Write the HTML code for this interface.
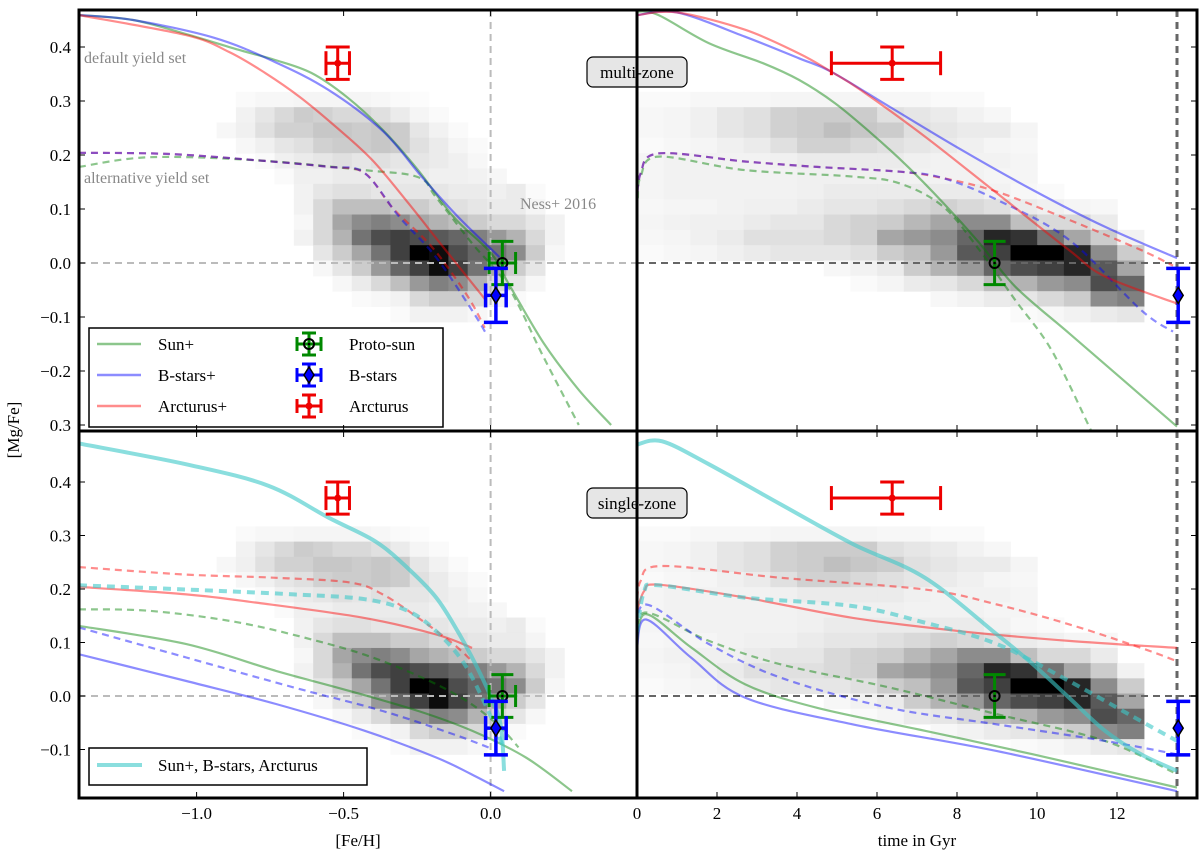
<!DOCTYPE html>
<html><head><meta charset="utf-8"><style>
html,body{margin:0;padding:0;background:#fff;}
svg{display:block;font-family:"Liberation Serif",serif;}
</style></head><body>
<svg id="chart" width="1200" height="850" viewBox="0 0 1200 850" xmlns="http://www.w3.org/2000/svg">
<defs>
<clipPath id="cTL"><rect x="79" y="10" width="558" height="421"/></clipPath>
<clipPath id="cTR"><rect x="637" y="10" width="560" height="421"/></clipPath>
<clipPath id="cBL"><rect x="79" y="431" width="558" height="367"/></clipPath>
<clipPath id="cBR"><rect x="637" y="431" width="560" height="367"/></clipPath>
</defs>
<g id="layer"></g>
</svg>
<script>
// ---- axis scales ----
const LX = f => 79 + (f + 1.4) * 294;
const RX = a => 637 + a * 40;
const TY = m => 263 - m * 540;
const BY = m => 696 - m * 535;

// ---- heatmap data (Ness+ 2016) ----
const hmMgTop = 0.317, hmMgStep = 0.0284;
const hmFehStart = -0.932, hmFehStep = 0.0657;
const hmAgeStart = 0, hmAgeStep = 0.667;
const hmFeh = [
[0,.02,.03,.03,.04,.04,.04,.04,.03,.02,.01,0,0,0,0,0,0,0],
[0,.05,.1,.15,.2,.18,.15,.15,.12,.08,.04,.02,0,0,0,0,0,0],
[.03,.06,.12,.18,.18,.22,.22,.2,.22,.2,.1,.05,.02,0,0,0,0,0],
[0,.03,.06,.1,.12,.18,.2,.2,.22,.2,.12,.08,.04,.02,0,0,0,0],
[0,0,.02,.06,.08,.1,.12,.1,.12,.1,.1,.08,.06,.03,0,0,0,0],
[0,0,0,.02,.06,.06,.08,.08,.08,.08,.08,.06,.06,.05,.03,0,0,0],
[0,0,0,0,.05,.1,.12,.12,.1,.1,.1,.1,.08,.08,.06,.08,.02,0],
[0,0,0,0,.05,.15,.25,.25,.25,.2,.2,.15,.12,.1,.08,.08,.04,0],
[0,0,0,0,.03,.15,.35,.45,.5,.45,.35,.3,.25,.2,.15,.15,.1,.05],
[0,0,0,0,.05,.15,.3,.55,.7,.75,.7,.65,.6,.5,.4,.3,.15,.05],
[0,0,0,0,0,.1,.2,.35,.55,.75,1,.95,.7,.6,.55,.45,.2,.03],
[0,0,0,0,0,.03,.1,.2,.4,.6,.75,.95,.75,.55,.35,.2,.1,0],
[0,0,0,0,0,0,.03,.08,.15,.25,.4,.5,.45,.3,.15,.1,.03,0],
[0,0,0,0,0,0,0,.02,.03,.05,.15,.2,.2,.15,.05,.02,0,0],
[0,0,0,0,0,0,0,0,0,.02,.05,.05,.05,.03,0,0,0,0]];
const hmAge = [
[.02,.02,.03,.03,.03,.04,.04,.04,.04,.03,.03,.02,.02,0,0,0,0,0,0],
[.03,.04,.06,.1,.12,.18,.2,.2,.2,.12,.1,.08,.05,.03,0,0,0,0,0],
[.03,.04,.06,.1,.12,.18,.2,.25,.22,.2,.12,.1,.08,.08,.04,0,0,0,0],
[.02,.03,.04,.06,.08,.12,.18,.18,.15,.12,.1,.08,.06,.04,.03,0,0,0,0],
[.04,.05,.05,.05,.05,.06,.08,.08,.08,.08,.06,.05,.05,.05,.04,0,0,0,0],
[.04,.05,.05,.05,.05,.05,.06,.06,.06,.06,.05,.05,.05,.04,.04,0,0,0,0],
[.04,.05,.05,.05,.05,.05,.06,.08,.08,.08,.08,.08,.08,.05,.03,.02,0,0,0],
[.03,.04,.04,.05,.06,.06,.08,.1,.1,.12,.15,.18,.15,.12,.08,.06,.04,.03,0],
[.04,.05,.06,.06,.08,.1,.1,.15,.18,.2,.28,.35,.45,.45,.25,.15,.15,.08,0],
[.03,.04,.06,.08,.12,.12,.12,.15,.18,.35,.4,.45,.6,.85,.8,.55,.35,.2,.05],
[.02,.03,.04,.06,.08,.1,.1,.1,.12,.2,.25,.4,.65,.75,1,1,.85,.45,.2],
[0,0,0,0,0,0,0,.03,.05,.08,.2,.3,.4,.6,.7,.75,.85,.65,.35],
[0,0,0,0,0,0,0,0,.02,.04,.08,.1,.15,.25,.3,.4,.45,.7,.6],
[0,0,0,0,0,0,0,0,0,0,0,.03,.05,.08,.1,.15,.2,.45,.5],
[0,0,0,0,0,0,0,0,0,0,0,0,0,0,.02,.03,.05,.08,.1]];

// ---- top-left (multi-zone vs [Fe/H]) ----
const tlRedFeh=[-1.4,-1.036,-0.89,-0.767,-0.648,-0.526,-0.403,-0.28,-0.162,-0.016];
const tlRedMg=[.459,.422,.391,.352,.307,.252,.191,.111,.030,-.069];
const tlGreenFeh=[-1.4,-1.216,-1.036,-0.852,-0.733,-0.61,-0.488,-0.366,-0.247,-0.125,0,0.06,0.18,0.30,0.41];
const tlGreenMg=[.459,.45,.424,.394,.376,.352,.307,.246,.172,.085,.019,-.037,-.148,-.235,-.30];
const tlBlueFeh=[-1.4,-1.216,-0.94,-0.733,-0.55,-0.366,-0.233,-0.11,0.03];
const tlBlueMg=[.459,.45,.417,.372,.32,.244,.159,.085,.011];
const tlRedDFeh=[-1.4,-1.1,-0.79,-0.55,-0.43,-0.33,-0.2,-0.08,-0.02];
const tlRedDMg=[.204,.202,.19,.178,.167,.10,.03,-.06,-.12];
const tlBlueDFeh=[-1.4,-1.1,-0.79,-0.55,-0.43,-0.31,-0.186,-0.064,-0.016];
const tlBlueDMg=[.204,.202,.19,.178,.167,.085,.011,-.087,-.13];
const tlGreenDFeh=[-1.4,-1.16,-0.79,-0.43,-0.247,-0.186,-0.064,0.06,0.18,0.30];
const tlGreenDMg=[.178,.196,.19,.172,.159,.122,.037,-.044,-.174,-.30];

// ---- top-right (multi-zone vs age) ----
const trRedAge=[0,1.0,2.7,4.05,4.86,5.6,7.2,9.0,10.8,11.7,13.5];
const trRedMg=[.459,.464,.432,.388,.354,.320,.234,.129,.024,-.025,-.075];
const trBlueAge=[0,1.0,2.7,4.05,4.86,6.3,8.1,9.9,11.7,13.5];
const trBlueMg=[.459,.464,.419,.379,.354,.29,.21,.135,.067,.009];
const trGreenAge=[0,0.54,1.8,3.15,4.05,4.95,5.86,6.76,7.66,8.56,9.46,10.8,12.16,13.5];
const trGreenMg=[.466,.459,.407,.370,.339,.296,.240,.179,.111,.037,-.044,-.130,-.217,-.303];
const trRedDAge=[0,0.09,0.54,2.7,4.5,6.58,7.66,9.0,10.8,12.6,13.4];
const trRedDMg=[.11,.166,.203,.188,.178,.169,.157,.132,.080,.024,-.005];
const trBlueDAge=[0,0.09,0.54,2.7,4.5,6.58,7.66,9.0,10.8,12.6,13.4];
const trBlueDMg=[.11,.166,.203,.188,.178,.169,.157,.117,.043,-.087,-.127];
const trGreenDAge=[0.02,0.09,0.54,2.7,5.4,6.58,7.66,8.56,9.46,10.36,11.35];
const trGreenDMg=[.12,.16,.197,.172,.16,.147,.104,.024,-.069,-.161,-.31];

// ---- bottom-left (single-zone vs [Fe/H]) ----
const blCyanFeh=[-1.4,-1.035,-0.756,-0.55,-0.392,-0.282,-0.185,-0.112,-0.051,-0.003,0.034,0.046];
const blCyanMg=[.472,.433,.393,.333,.289,.239,.184,.121,.059,.003,-.053,-.14];
const blRedFeh=[-1.4,-1.035,-0.79,-0.43,-0.185,-0.063];
const blRedMg=[.204,.190,.174,.146,.115,.090];
const blRedDFeh=[-1.4,-1.035,-0.73,-0.477,-0.367,-0.246,-0.124,-0.063];
const blRedDMg=[.241,.227,.221,.212,.190,.146,.096,.065];
const blCyanDFeh=[-1.4,-1.035,-0.67,-0.428,-0.282,-0.185,-0.088,-0.003,0.046];
const blCyanDMg=[.207,.199,.190,.181,.159,.121,.059,-.034,-.10];
const blGreenDFeh=[-1.4,-1.157,-0.853,-0.55,-0.367,-0.185,-0.063,0.034,0.095];
const blGreenDMg=[.162,.159,.137,.097,.065,.022,-.016,-.059,-.096];
const blGreenFeh=[-1.4,-1.035,-0.73,-0.477,-0.246,-0.063,0.12,0.277];
const blGreenMg=[.131,.097,.047,.009,-.028,-.065,-.115,-.178];
const blBlueDFeh=[-1.4,-1.035,-0.67,-0.367,-0.124,-0.003];
const blBlueDMg=[.128,.072,.016,-.028,-.072,-.097];
const blBlueFeh=[-1.4,-1.035,-0.73,-0.428,-0.185,-0.063,0.046];
const blBlueMg=[.078,.028,-.015,-.065,-.115,-.147,-.178];

// ---- bottom-right (single-zone vs age) ----
const brCyanAge=[0,0.63,1.8,3.6,5.4,7.2,9.0,9.9,10.8,11.7,12.6,13.5];
const brCyanMg=[.470,.476,.433,.358,.284,.221,.115,.059,-.003,-.065,-.109,-.140];
const brRedAge=[0,0.18,0.54,2.7,5.4,8.1,10.8,13.5];
const brRedMg=[.159,.196,.208,.184,.146,.121,.103,.090];
const brRedDAge=[0,0.09,0.63,3.6,7.2,9.0,10.8,12.6,13.5];
const brRedDMg=[.16,.215,.243,.221,.199,.171,.134,.090,.065];
const brCyanDAge=[0,0.18,0.54,2.7,5.4,7.2,9.0,10.8,12.6,13.5];
const brCyanDMg=[.12,.196,.207,.184,.168,.137,.097,.028,-.047,-.084];
const brGreenDAge=[0,0.23,1.8,3.6,6.3,9.0,11.7,13.5];
const brGreenDMg=[.109,.156,.103,.059,.016,-.034,-.084,-.146];
const brBlueDAge=[0,0.23,1.8,3.6,6.3,9.0,11.7,13.5];
const brBlueDMg=[.11,.171,.097,.034,-.022,-.053,-.084,-.109];
const brGreenAge=[0,0.23,1.35,2.7,4.5,7.2,9.9,13.5];
const brGreenMg=[.1,.153,.091,.022,-.022,-.065,-.109,-.171];
const brBlueAge=[0,0.23,1.35,2.7,5.4,9.0,13.5];
const brBlueMg=[.09,.143,.072,-.003,-.053,-.103,-.178];

// ---- observations ----
const arcFeh=-0.52, arcFehErr=0.04, arcMg=0.37, arcMgErr=0.03, arcAge=6.38, arcAgeLo=1.52, arcAgeHi=1.21;
const sunFeh=0.04, sunFehErr=0.045, sunMg=0.0, sunMgErr=0.04, sunAge=8.94;
const bstFeh=0.018, bstFehErr=0.035, bstMg=-0.06, bstMgErr=0.05, bstAge=13.53;

// tick label arrays
const fehTicks=[-1.0,-0.5,0.0];
const fehTickLabels=["\u22121.0","\u22120.5","0.0"];
const ageTicks=[0,2,4,6,8,10,12];
const mgTicksTop=[0.4,0.3,0.2,0.1,0.0,-0.1,-0.2,-0.3];
const mgTickLabelsTop=["0.4","0.3","0.2","0.1","0.0","\u22120.1","\u22120.2","0.3"];
const mgTicksBot=[0.4,0.3,0.2,0.1,0.0,-0.1];
const mgTickLabelsBot=["0.4","0.3","0.2","0.1","0.0","\u22120.1"];

const NS="http://www.w3.org/2000/svg";
const root=document.getElementById('layer');
function mk(tag,attrs,parent){const e=document.createElementNS(NS,tag);for(const k in attrs)e.setAttribute(k,attrs[k]);(parent||root).appendChild(e);return e;}
function grp(clip){const g=mk('g',{});if(clip)g.setAttribute('clip-path','url(#'+clip+')');return g;}

const GREEN='rgba(0,128,0,0.45)',BLUE='rgba(0,0,255,0.45)',RED='rgba(255,0,0,0.45)',CYAN='rgba(60,200,200,0.6)';

function heat(g,mat,xs,xStart,xStep,ys){
  for(let r=0;r<mat.length;r++)for(let c=0;c<mat[r].length;c++){
    const v=mat[r][c]; if(v<=0) continue;
    const x0=xs(xStart+c*xStep), x1=xs(xStart+(c+1)*xStep);
    const y0=ys(hmMgTop-r*hmMgStep), y1=ys(hmMgTop-(r+1)*hmMgStep);
    const gv=Math.round(255*(1-v));
    const e=mk('rect',{x:x0,y:y0,width:x1-x0+0.5,height:y1-y0+0.5,fill:`rgb(${gv},${gv},${gv})`},g);
    
    
  }
}
function smoothPath(P){
  let d='M'+P[0][0].toFixed(1)+','+P[0][1].toFixed(1);
  for(let i=0;i<P.length-1;i++){
    const p0=P[Math.max(0,i-1)],p1=P[i],p2=P[i+1],p3=P[Math.min(P.length-1,i+2)];
    const c1x=p1[0]+(p2[0]-p0[0])/6,c1y=p1[1]+(p2[1]-p0[1])/6;
    const c2x=p2[0]-(p3[0]-p1[0])/6,c2y=p2[1]-(p3[1]-p1[1])/6;
    d+=` C${c1x.toFixed(1)},${c1y.toFixed(1)} ${c2x.toFixed(1)},${c2y.toFixed(1)} ${p2[0].toFixed(1)},${p2[1].toFixed(1)}`;
  }
  return d;
}
function curve(g,xsArr,ysArr,xs,ys,color,width,dash,name){
  const P=xsArr.map((v,i)=>[xs(v),ys(ysArr[i])]);
  const e=mk('path',{d:smoothPath(P),fill:'none',stroke:color,'stroke-width':width,'stroke-linejoin':'round'},g);
  if(dash)e.setAttribute('stroke-dasharray',dash);
  
  
}
function errbar(g,cx,cy,xl,xr,yt,yb,color,w,cap,marker,name){
  const eg=mk('g',{},g);
  
  
  mk('line',{x1:cx,y1:yt,x2:cx,y2:yb,stroke:color,'stroke-width':w},eg);
  mk('line',{x1:cx-cap,y1:yt,x2:cx+cap,y2:yt,stroke:color,'stroke-width':w},eg);
  mk('line',{x1:cx-cap,y1:yb,x2:cx+cap,y2:yb,stroke:color,'stroke-width':w},eg);
  if(xl!==null){
    mk('line',{x1:xl,y1:cy,x2:xr,y2:cy,stroke:color,'stroke-width':w},eg);
    mk('line',{x1:xl,y1:cy-cap,x2:xl,y2:cy+cap,stroke:color,'stroke-width':w},eg);
    mk('line',{x1:xr,y1:cy-cap,x2:xr,y2:cy+cap,stroke:color,'stroke-width':w},eg);
  }
  if(marker==='dot')mk('circle',{cx:cx,cy:cy,r:3.5,fill:color},eg);
  if(marker==='sun'){mk('circle',{cx:cx,cy:cy,r:5,fill:'none',stroke:'#000','stroke-width':2},eg);mk('circle',{cx:cx,cy:cy,r:1.3,fill:'#000'},eg);}
  if(marker==='diamond')mk('polygon',{points:`${cx},${cy-8} ${cx+5},${cy} ${cx},${cy+8} ${cx-5},${cy}`,fill:'#0000ff',stroke:'#000','stroke-width':1.5},eg);
}
function hline(g,y,x0,x1,color,name){const e=mk('line',{x1:x0,y1:y,x2:x1,y2:y,stroke:color,'stroke-width':2,'stroke-dasharray':'7,5'},g);}
function vline(g,x,y0,y1,color,w,name){const e=mk('line',{x1:x,y1:y0,x2:x,y2:y1,stroke:color,'stroke-width':w,'stroke-dasharray':'7,5'},g);}

// ===== TOP-LEFT =====
let g=grp('cTL');
heat(g,hmFeh,LX,hmFehStart,hmFehStep,TY);
vline(g,LX(0),10,431,'#bbb',2,'feh-zero-line');
hline(g,TY(0),79,637,'#bbb','mg-zero-line');
curve(g,tlGreenDFeh,tlGreenDMg,LX,TY,GREEN,2.2,'7,5','sun-alt-curve');
curve(g,tlRedDFeh,tlRedDMg,LX,TY,RED,2.2,'7,5','arcturus-alt-curve');
curve(g,tlBlueDFeh,tlBlueDMg,LX,TY,BLUE,2.2,'7,5','bstars-alt-curve');
curve(g,tlGreenFeh,tlGreenMg,LX,TY,GREEN,2.2,null,'sun-default-curve');
curve(g,tlBlueFeh,tlBlueMg,LX,TY,BLUE,2.2,null,'bstars-default-curve');
curve(g,tlRedFeh,tlRedMg,LX,TY,RED,2.2,null,'arcturus-default-curve');
errbar(g,LX(arcFeh),TY(arcMg),LX(arcFeh-arcFehErr),LX(arcFeh+arcFehErr),TY(arcMg+arcMgErr),TY(arcMg-arcMgErr),'#e00',3,12,'dot','arcturus-point');
errbar(g,LX(sunFeh),TY(sunMg),LX(sunFeh-sunFehErr),LX(sunFeh+sunFehErr),TY(sunMg+sunMgErr),TY(sunMg-sunMgErr),'#080',3,11,'sun','protosun-point');
errbar(g,LX(bstFeh),TY(bstMg),LX(bstFeh-bstFehErr),LX(bstFeh+bstFehErr),TY(bstMg+bstMgErr),TY(bstMg-bstMgErr),'#00f',3.5,12,'diamond','bstars-point');

// ===== TOP-RIGHT =====
g=grp('cTR');
heat(g,hmAge,RX,hmAgeStart,hmAgeStep,TY);
hline(g,TY(0),637,1197,'#666','mg-zero-line-right');
vline(g,RX(13.5),10,431,'#666',3,'present-day-line');
curve(g,trGreenDAge,trGreenDMg,RX,TY,GREEN,2.2,'7,5','sun-alt-age-curve');
curve(g,trRedDAge,trRedDMg,RX,TY,RED,2.2,'7,5','arcturus-alt-age-curve');
curve(g,trBlueDAge,trBlueDMg,RX,TY,BLUE,2.2,'7,5','bstars-alt-age-curve');
curve(g,trGreenAge,trGreenMg,RX,TY,GREEN,2.2,null,'sun-age-curve');
curve(g,trBlueAge,trBlueMg,RX,TY,BLUE,2.2,null,'bstars-age-curve');
curve(g,trRedAge,trRedMg,RX,TY,RED,2.2,null,'arcturus-age-curve');
errbar(g,RX(arcAge),TY(arcMg),RX(arcAge-arcAgeLo),RX(arcAge+arcAgeHi),TY(arcMg+arcMgErr),TY(arcMg-arcMgErr),'#e00',3,12,'dot','arcturus-age-point');
errbar(g,RX(sunAge),TY(sunMg),null,null,TY(sunMg+sunMgErr),TY(sunMg-sunMgErr),'#080',3,11,'sun','protosun-age-point');
errbar(g,RX(bstAge),TY(bstMg),null,null,TY(bstMg+bstMgErr),TY(bstMg-bstMgErr),'#00f',3.5,12,'diamond','bstars-age-point');

// ===== BOTTOM-LEFT =====
g=grp('cBL');
heat(g,hmFeh,LX,hmFehStart,hmFehStep,BY);
vline(g,LX(0),431,798,'#bbb',2,'feh-zero-line-bottom');
hline(g,BY(0),79,637,'#bbb','mg-zero-line-bottom');
curve(g,blRedDFeh,blRedDMg,LX,BY,RED,2.2,'7,5','arcturus-single-alt-curve');
curve(g,blGreenDFeh,blGreenDMg,LX,BY,GREEN,2.2,'7,5','sun-single-alt-curve');
curve(g,blBlueDFeh,blBlueDMg,LX,BY,BLUE,2.2,'7,5','bstars-single-alt-curve');
curve(g,blRedFeh,blRedMg,LX,BY,RED,2.2,null,'arcturus-single-curve');
curve(g,blGreenFeh,blGreenMg,LX,BY,GREEN,2.2,null,'sun-single-curve');
curve(g,blBlueFeh,blBlueMg,LX,BY,BLUE,2.2,null,'bstars-single-curve');
curve(g,blCyanDFeh,blCyanDMg,LX,BY,CYAN,4,'8,6','combined-alt-curve');
curve(g,blCyanFeh,blCyanMg,LX,BY,CYAN,4,null,'combined-curve');
errbar(g,LX(arcFeh),BY(arcMg),LX(arcFeh-arcFehErr),LX(arcFeh+arcFehErr),BY(arcMg+arcMgErr),BY(arcMg-arcMgErr),'#e00',3,12,'dot','arcturus-point-bottom');
errbar(g,LX(sunFeh),BY(sunMg),LX(sunFeh-sunFehErr),LX(sunFeh+sunFehErr),BY(sunMg+sunMgErr),BY(sunMg-sunMgErr),'#080',3,11,'sun','protosun-point-bottom');
errbar(g,LX(bstFeh),BY(bstMg),LX(bstFeh-bstFehErr),LX(bstFeh+bstFehErr),BY(bstMg+bstMgErr),BY(bstMg-bstMgErr),'#00f',3.5,12,'diamond','bstars-point-bottom');

// ===== BOTTOM-RIGHT =====
g=grp('cBR');
heat(g,hmAge,RX,hmAgeStart,hmAgeStep,BY);
hline(g,BY(0),637,1197,'#666','mg-zero-line-bottom-right');
vline(g,RX(13.5),431,798,'#666',3,'present-day-line-bottom');
curve(g,brRedDAge,brRedDMg,RX,BY,RED,2.2,'7,5','arcturus-single-alt-age-curve');
curve(g,brGreenDAge,brGreenDMg,RX,BY,GREEN,2.2,'7,5','sun-single-alt-age-curve');
curve(g,brBlueDAge,brBlueDMg,RX,BY,BLUE,2.2,'7,5','bstars-single-alt-age-curve');
curve(g,brRedAge,brRedMg,RX,BY,RED,2.2,null,'arcturus-single-age-curve');
curve(g,brGreenAge,brGreenMg,RX,BY,GREEN,2.2,null,'sun-single-age-curve');
curve(g,brBlueAge,brBlueMg,RX,BY,BLUE,2.2,null,'bstars-single-age-curve');
curve(g,brCyanDAge,brCyanDMg,RX,BY,CYAN,4,'8,6','combined-alt-age-curve');
curve(g,brCyanAge,brCyanMg,RX,BY,CYAN,4,null,'combined-age-curve');
errbar(g,RX(arcAge),BY(arcMg),RX(arcAge-arcAgeLo),RX(arcAge+arcAgeHi),BY(arcMg+arcMgErr),BY(arcMg-arcMgErr),'#e00',3,12,'dot','arcturus-age-point-bottom');
errbar(g,RX(sunAge),BY(sunMg),null,null,BY(sunMg+sunMgErr),BY(sunMg-sunMgErr),'#080',3,11,'sun','protosun-age-point-bottom');
errbar(g,RX(bstAge),BY(bstMg),null,null,BY(bstMg+bstMgErr),BY(bstMg-bstMgErr),'#00f',3.5,12,'diamond','bstars-age-point-bottom');

// ===== annotations =====
function text(x,y,s,size,fill,anchor,name){const e=mk('text',{x:x,y:y,'font-size':size,fill:fill,'text-anchor':anchor||'start'});e.textContent=s;return e;}
text(84,63,'default yield set',16,'#888','start','default-yield-label');
text(84,183,'alternative yield set',16,'#888','start','alternative-yield-label');
text(520,209,'Ness+ 2016',16,'#888','start','ness-2016-label');
function boxLabel(cx,cy,s,name){const gg=mk('g',{});
 mk('rect',{x:cx-50,y:cy-15,width:100,height:30,rx:6,fill:'#e6e6e6',stroke:'#000','stroke-width':1.2},gg);
 const t=mk('text',{x:cx,y:cy+6,'font-size':17,'text-anchor':'middle',fill:'#000'},gg);t.textContent=s;}
boxLabel(637,72,'multi-zone','multi-zone-label');
boxLabel(637,503,'single-zone','single-zone-label');

// ===== legends =====
let lg=mk('g',{});
mk('rect',{x:89,y:328,width:354,height:99,fill:'#fff',stroke:'#000','stroke-width':1.5},lg);
const legNames=['Sun+','B-stars+','Arcturus+'];const legCols=[GREEN,BLUE,RED];const legY=[344,375,406];
const legObs=['Proto-sun','B-stars','Arcturus'];
for(let i=0;i<3;i++){
 const e=mk('line',{x1:97,y1:legY[i],x2:141,y2:legY[i],stroke:legCols[i],'stroke-width':2.5},lg);
 
 const t=mk('text',{x:158,y:legY[i]+6,'font-size':17},lg);t.textContent=legNames[i];
 const t2=mk('text',{x:349,y:legY[i]+6,'font-size':17},lg);t2.textContent=legObs[i];
}
errbar(lg,309,344,297,321,333,355,'#080',3,7,'sun','legend-protosun');
errbar(lg,309,375,297,321,364,386,'#00f',3,7,'diamond','legend-bstars');
errbar(lg,309,406,297,321,395,417,'#e00',3,7,'dot','legend-arcturus');
lg=mk('g',{});
mk('rect',{x:89,y:748,width:278,height:37,fill:'#fff',stroke:'#000','stroke-width':1.5},lg);
mk('line',{x1:97,y1:765,x2:142,y2:765,stroke:CYAN,'stroke-width':4},lg);
const lt=mk('text',{x:158,y:771,'font-size':17},lg);lt.textContent='Sun+, B-stars, Arcturus';

// ===== axes frames & ticks =====
const ax=mk('g',{});
[[79,10,558,421],[637,10,560,421],[79,431,558,367],[637,431,560,367]].forEach(p=>mk('rect',{x:p[0],y:p[1],width:p[2],height:p[3],fill:'none',stroke:'#000','stroke-width':3},ax));
fehTicks.forEach((f,i)=>{const x=LX(f);
 [10,431].forEach(y=>mk('line',{x1:x,y1:y,x2:x,y2:y+6,stroke:'#000','stroke-width':1},ax));
 [431,798].forEach(y=>mk('line',{x1:x,y1:y,x2:x,y2:y-6,stroke:'#000','stroke-width':1},ax));
 const t=mk('text',{x:x,y:819,'font-size':17,'text-anchor':'middle'},ax);t.textContent=fehTickLabels[i];
 });
ageTicks.forEach(a=>{const x=RX(a);
 if(a>0){[10,431].forEach(y=>mk('line',{x1:x,y1:y,x2:x,y2:y+6,stroke:'#000','stroke-width':1},ax));
 [431,798].forEach(y=>mk('line',{x1:x,y1:y,x2:x,y2:y-6,stroke:'#000','stroke-width':1},ax));}
 const t=mk('text',{x:x,y:819,'font-size':17,'text-anchor':'middle'},ax);t.textContent=String(a);
 });
mgTicksTop.forEach((m,i)=>{const y=TY(m);
 mk('line',{x1:79,y1:y,x2:85,y2:y,stroke:'#000'},ax);mk('line',{x1:1197,y1:y,x2:1191,y2:y,stroke:'#000'},ax);
 const t=mk('text',{x:71,y:y+6,'font-size':17,'text-anchor':'end'},ax);t.textContent=mgTickLabelsTop[i];
 });
mgTicksBot.forEach((m,i)=>{const y=BY(m);
 mk('line',{x1:79,y1:y,x2:85,y2:y,stroke:'#000'},ax);mk('line',{x1:1197,y1:y,x2:1191,y2:y,stroke:'#000'},ax);
 const t=mk('text',{x:71,y:y+6,'font-size':17,'text-anchor':'end'},ax);t.textContent=mgTickLabelsBot[i];
 });
const yt=text(0,0,'[Mg/Fe]',17,'#000','middle','y-axis-title');yt.setAttribute('transform','translate(19,430) rotate(-90)');
text(358,846,'[Fe/H]',17,'#000','middle','x-axis-title-feh');
text(917,846,'time in Gyr',17,'#000','middle','x-axis-title-age');
</script>
</body></html>
